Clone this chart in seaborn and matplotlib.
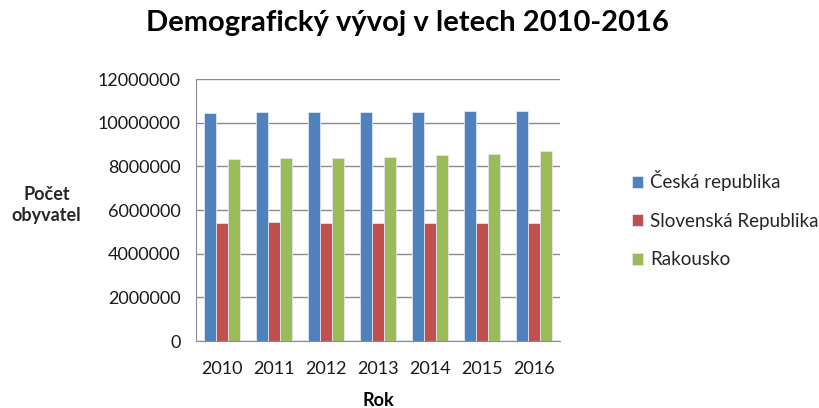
"""Demographic development bar chart 2010-2016."""
import numpy as np
import pandas as pd
import matplotlib
matplotlib.use('Agg')
import matplotlib.pyplot as plt
import seaborn as sns

years = ['2010', '2011', '2012', '2013', '2014', '2015', '2016']
countries = ['Česká republika', 'Slovenská Republika', 'Rakousko']
cz = [10462088, 10486731, 10505445, 10516125, 10512419, 10538275, 10553843]
sk = [5424925, 5435273, 5404322, 5410836, 5415949, 5421349, 5426252]
at = [8351643, 8375164, 8408121, 8451860, 8507786, 8584926, 8700471]
colors = ['#4F81BD', '#C0504D', '#9BBB59']

df = pd.DataFrame({'Rok': years * 3,
                   'value': cz + sk + at,
                   'country': np.repeat(countries, len(years))})

sns.set_style('white')
plt.rcParams['font.family'] = ['Lato', 'DejaVu Sans']

fig = plt.figure(figsize=(8.19, 4.08), dpi=100)
ax = fig.add_axes([0.239, 0.164, 0.445, 0.642])

sns.barplot(data=df, x='Rok', y='value', hue='country', palette=colors,
            saturation=1, width=0.7, edgecolor='#dfe7f2', linewidth=0.6,
            ax=ax, zorder=3)

ax.set_ylim(0, 12000000)
ax.set_yticks(range(0, 12000001, 2000000))
ax.set_yticklabels([str(v) for v in range(0, 12000001, 2000000)], fontsize=13, color='#1a1a1a')
ax.yaxis.grid(True, color='#8c8c8c', linewidth=1.0, zorder=0)
ax.set_xlim(-0.5, len(years) - 0.5)
ax.tick_params(axis='x', which='major', length=0, pad=14, labelsize=13, labelcolor='#1a1a1a')
ax.set_xticks(np.arange(-0.5, len(years), 1.0), minor=True)
ax.tick_params(axis='x', which='minor', length=6, color='#8c8c8c', direction='out')
ax.tick_params(axis='y', length=5, color='#8c8c8c', direction='out', pad=6)

for s in ['top', 'right']:
    ax.spines[s].set_visible(False)
for s in ['left', 'bottom']:
    ax.spines[s].set_color('#8c8c8c')

ax.set_xlabel('Rok', fontsize=13, fontweight='bold', labelpad=11, color='black')
ax.set_ylabel('')
fig.text(0.057, 0.497, 'Počet\nobyvatel', ha='center', va='center',
         fontsize=13, fontweight='bold', linespacing=1.3)

fig.suptitle('Demografický vývoj v letech 2010-2016', x=0.498, y=0.975,
             fontsize=21, fontweight='bold', color='black')

ax.legend(loc='center left', bbox_to_anchor=(1.15, 0.465), frameon=False,
          fontsize=13.5, handlelength=0.6, handleheight=0.6, handletextpad=0.4,
          labelspacing=1.15)

plt.savefig('out.png', dpi=100)
plt.close()
